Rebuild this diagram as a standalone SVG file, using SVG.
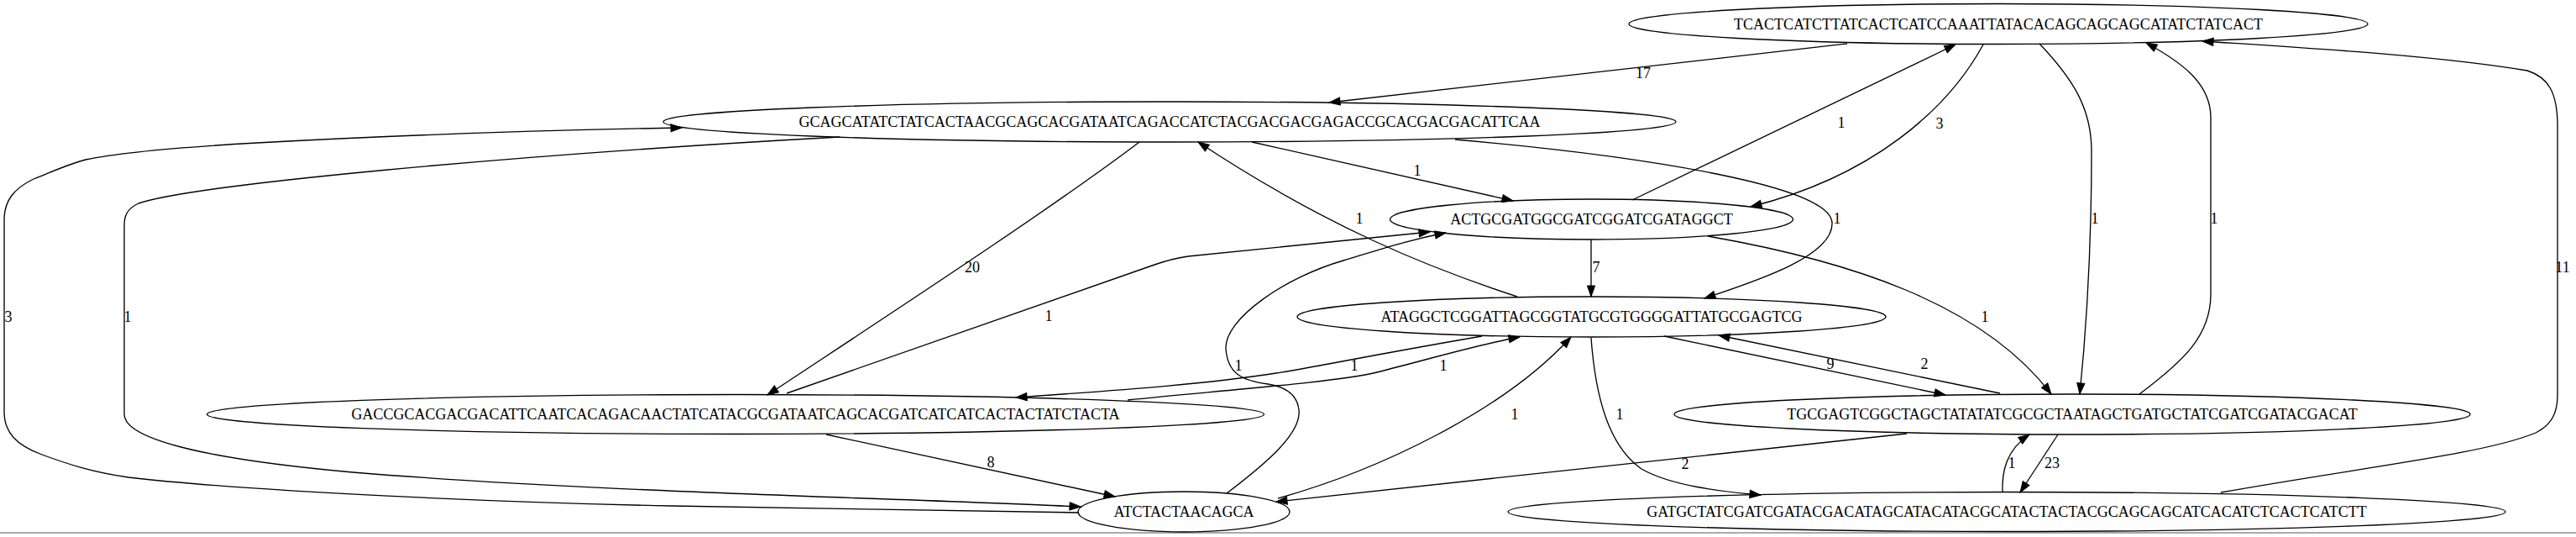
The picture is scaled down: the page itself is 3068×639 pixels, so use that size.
<svg xmlns="http://www.w3.org/2000/svg" width="3068" height="639" viewBox="0 0 3068 639">
<style>
.n ellipse{fill:none;stroke:#000;stroke-width:1.33}
text{font-family:"Liberation Serif","Times New Roman",serif;font-size:18px;fill:#000}
.n text{text-anchor:middle}
.e path{fill:none;stroke:#000;stroke-width:1.33;marker-end:url(#a)}
.l text{text-anchor:middle}
</style>
<defs>
<marker id="a" markerUnits="userSpaceOnUse" markerWidth="14" markerHeight="10" refX="13" refY="4.6" orient="auto" overflow="visible">
<path d="M0,0 L13,4.6 L0,9.2 Z" fill="#000" stroke="#000" stroke-width="1"/>
</marker>
</defs>
<rect x="0" y="0" width="3068" height="639" fill="#fff"/>
<rect x="0" y="633" width="3068" height="2" fill="#aaaaaa"/>
<g class="e" id="connectors">
<path d="M2200,52 C2000,75 1800,97 1583,122"/>
<path d="M1491,169 L1802,239"/>
<path d="M2362,53 C2320,130 2230,210 2085,246"/>
<path d="M1944,238 L2329,53"/>
<path d="M2429,52 C2470,95 2491,130 2491,180 C2491,300 2484,400 2477,469"/>
<path d="M2548,469 C2600,430 2633,400 2633,350 L2633,140 C2633,100 2600,75 2556,51"/>
<path d="M2645,586 C2820,555 2960,540 3020,515 C3040,505 3046,490 3046,470 L3046,150 C3046,110 3035,92 3010,84 C2900,66 2760,58 2623,49"/>
<path d="M1733,166 C1950,185 2180,220 2182,265 C2184,305 2090,335 2030,355"/>
<path d="M1895,285 L1895,353"/>
<path d="M1807,353 C1700,318 1580,270 1427,169"/>
<path d="M1357,169 C1250,250 1050,380 914,470"/>
<path d="M937,468 L1375,315 Q1395,308 1415,305 L1703,276"/>
<path d="M1765,400 C1620,425 1560,438 1520,444 C1430,458 1320,465 1210,473"/>
<path d="M1343,476 C1450,465 1590,455 1640,443 C1700,428 1760,410 1810,401"/>
<path d="M1461,587 C1510,550 1550,515 1547,488 C1545,468 1530,460 1510,457 C1480,453 1462,445 1460,415 C1458,380 1530,330 1600,310 C1650,295 1680,285 1722,277"/>
<path d="M1522,593 C1640,560 1790,490 1871,401"/>
<path d="M2271,516 L1520,597"/>
<path d="M1895,402 C1900,470 1915,530 1955,558 C1990,578 2050,585 2097,589"/>
<path d="M1982,400 L2317,470"/>
<path d="M2382,468 L2047,399"/>
<path d="M2034,281 C2200,310 2360,360 2443,469"/>
<path d="M2451,517 L2406,586"/>
<path d="M2385,586 C2384,560 2390,535 2417,517"/>
<path d="M1000,163 C600,185 230,220 165,242 C152,248 148,256 148,268 L148,493 C148,520 230,545 420,562 C700,585 1050,592 1287,603"/>
<path d="M1285,610 C1100,606 950,604 800,602 C600,598 300,585 153,568 C110,562 80,552 50,541 C20,530 5,515 5,490 L5,262 C5,240 15,225 40,213 C65,203 80,196 102,190 C140,182 200,176 306,170 C450,162 650,155 812,152"/>
<path d="M984,517 L1328,591"/>
</g>
<g class="l" id="edge-labels">
<text x="1957" y="93">17</text>
<text x="1688" y="209">1</text>
<text x="2310" y="153">3</text>
<text x="2193" y="152">1</text>
<text x="2495" y="266">1</text>
<text x="2637" y="266">1</text>
<text x="3052" y="324">11</text>
<text x="2188" y="266">1</text>
<text x="1901" y="324">7</text>
<text x="1619" y="266">1</text>
<text x="1158" y="324">20</text>
<text x="1249" y="382">1</text>
<text x="1613" y="441">1</text>
<text x="1719" y="441">1</text>
<text x="1475" y="441">1</text>
<text x="1804" y="499">1</text>
<text x="2007" y="558">2</text>
<text x="1929" y="499">1</text>
<text x="2180" y="439">9</text>
<text x="2292" y="439">2</text>
<text x="2364" y="383">1</text>
<text x="2444" y="557">23</text>
<text x="2396" y="557">1</text>
<text x="152" y="383">1</text>
<text x="10" y="383">3</text>
<text x="1180" y="556">8</text>
</g>
<g class="n" id="n1"><ellipse cx="2380" cy="28.5" rx="440" ry="24"/><text x="2380" y="34.5">TCACTCATCTTATCACTCATCCAAATTATACACAGCAGCAGCATATCTATCACT</text></g>
<g class="n" id="n2"><ellipse cx="1393" cy="145" rx="603" ry="24"/><text x="1393" y="151">GCAGCATATCTATCACTAACGCAGCACGATAATCAGACCATCTACGACGACGAGACCGCACGACGACATTCAA</text></g>
<g class="n" id="n3"><ellipse cx="1895.5" cy="261" rx="240" ry="24"/><text x="1895.5" y="267">ACTGCGATGGCGATCGGATCGATAGGCT</text></g>
<g class="n" id="n4"><ellipse cx="1895.5" cy="377" rx="350.5" ry="24"/><text x="1895.5" y="383">ATAGGCTCGGATTAGCGGTATGCGTGGGGATTATGCGAGTCG</text></g>
<g class="n" id="n5"><ellipse cx="876" cy="493" rx="629.5" ry="23.5"/><text x="876" y="499">GACCGCACGACGACATTCAATCACAGACAACTATCATACGCGATAATCAGCACGATCATCATCACTACTATCTACTA</text></g>
<g class="n" id="n6"><ellipse cx="2468" cy="493" rx="474" ry="24"/><text x="2468" y="499">TGCGAGTCGGCTAGCTATATATCGCGCTAATAGCTGATGCTATCGATCGATACGACAT</text></g>
<g class="n" id="n7"><ellipse cx="2390" cy="609" rx="594" ry="23.5"/><text x="2390" y="615">GATGCTATCGATCGATACGACATAGCATACATACGCATACTACTACGCAGCAGCATCACATCTCACTCATCTT</text></g>
<g class="n" id="n8"><ellipse cx="1410" cy="609" rx="126" ry="24"/><text x="1410" y="615">ATCTACTAACAGCA</text></g>
</svg>
